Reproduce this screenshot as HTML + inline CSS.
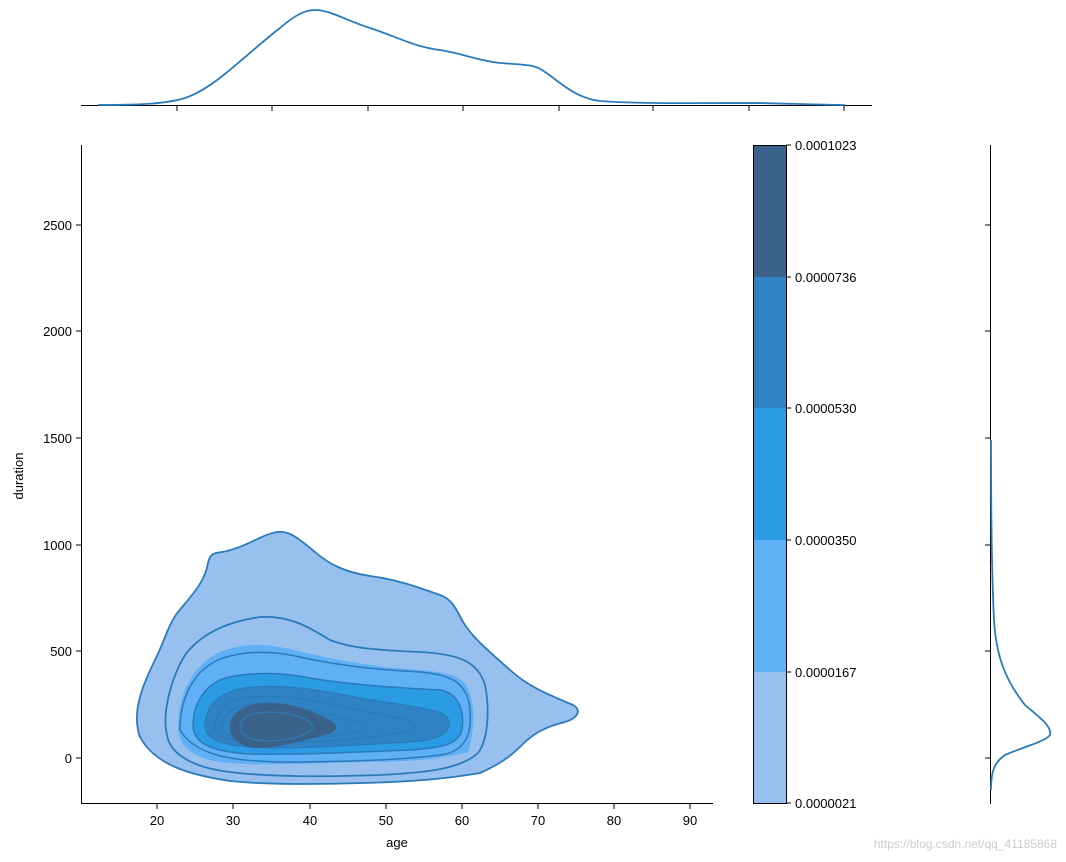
<!DOCTYPE html>
<html><head><style>body{margin:0;background:#fff}svg{display:block}text{font-family:"Liberation Sans",sans-serif;font-size:13px;fill:#000}</style></head>
<body>
<svg width="1066" height="862" viewBox="0 0 1066 862" xmlns="http://www.w3.org/2000/svg">
<line x1="81" y1="105.5" x2="872" y2="105.5" stroke="#000" stroke-width="1"/>
<g stroke="#000"><line x1="177" y1="105" x2="177" y2="111"/><line x1="272" y1="105" x2="272" y2="111"/><line x1="368" y1="105" x2="368" y2="111"/><line x1="463" y1="105" x2="463" y2="111"/><line x1="559" y1="105" x2="559" y2="111"/><line x1="653" y1="105" x2="653" y2="111"/><line x1="749" y1="105" x2="749" y2="111"/><line x1="844" y1="105" x2="844" y2="111"/></g>
<path d="M98,105 C140,105 165,104 185,98 C215,88 245,55 280,28 C295,15 305,10 315,10 C330,10 345,20 370,28 C400,38 415,47 440,50 C465,54 475,60 500,63 C525,65 535,64 545,72 C560,82 575,98 600,101 C640,104 700,103 760,103 C800,104 830,105 845,105" fill="none" stroke="#2b7bba" stroke-width="1.8"/>
<line x1="81.5" y1="145" x2="81.5" y2="804" stroke="#000"/>
<line x1="81" y1="803.5" x2="713" y2="803.5" stroke="#000"/>
<g stroke="#000">
<line x1="157" y1="804" x2="157" y2="809"/><line x1="233" y1="804" x2="233" y2="809"/><line x1="310" y1="804" x2="310" y2="809"/><line x1="386" y1="804" x2="386" y2="809"/><line x1="462" y1="804" x2="462" y2="809"/><line x1="538" y1="804" x2="538" y2="809"/><line x1="614" y1="804" x2="614" y2="809"/><line x1="690" y1="804" x2="690" y2="809"/>
<line x1="76" y1="225" x2="81" y2="225"/><line x1="76" y1="331" x2="81" y2="331"/><line x1="76" y1="438" x2="81" y2="438"/><line x1="76" y1="545" x2="81" y2="545"/><line x1="76" y1="651" x2="81" y2="651"/><line x1="76" y1="758" x2="81" y2="758"/>
</g>
<g text-anchor="middle">
<text x="157" y="825">20</text><text x="233" y="825">30</text><text x="310" y="825">40</text><text x="386" y="825">50</text><text x="462" y="825">60</text><text x="538" y="825">70</text><text x="614" y="825">80</text><text x="690" y="825">90</text>
<text x="397" y="847">age</text>
</g>
<g text-anchor="end">
<text x="72" y="230">2500</text><text x="72" y="336">2000</text><text x="72" y="443">1500</text><text x="72" y="550">1000</text><text x="72" y="656">500</text><text x="72" y="763">0</text>
</g>
<text x="23" y="476" text-anchor="middle" transform="rotate(-90 23 476)">duration</text>
<path d="M140,737 C132,715 140,690 155,660 C165,640 168,625 178,612 C192,595 205,582 208,563 C210,553 215,553 222,552 C245,548 260,535 277,532 C290,530 300,540 315,552 C330,565 345,572 370,576 C400,580 420,588 440,595 C455,600 458,615 465,625 C475,640 490,652 510,670 C530,688 550,695 573,705 C582,710 578,718 565,722 C545,727 535,733 525,742 C515,752 505,762 480,773 C440,780 400,782 363,783 C300,785 260,784 230,781 C190,775 155,765 140,737 Z" fill="#98c0ee" stroke="#2b7bba" stroke-width="1.8"/>
<path d="M167,735 C162,715 170,680 185,655 C200,635 225,622 260,617 C290,615 310,628 330,640 C350,648 375,650 420,652 C460,654 478,662 485,685 C490,710 488,740 478,753 C460,770 420,773 380,775 C320,777 270,777 230,772 C195,768 170,755 167,735 Z" fill="none" stroke="#2b7bba" stroke-width="1.8"/>
<path d="M178,727 C178,695 192,665 220,652 C240,644 260,643 285,648 C315,655 345,662 385,667 C425,671 455,670 466,685 C475,700 476,725 468,752 C440,760 400,762 363,762 C300,764 250,766 220,762 C192,758 178,745 178,727 Z" fill="#5fb0f5"/>
<path d="M180,730 C180,700 192,672 218,660 C240,651 270,650 300,657 C340,666 380,670 420,672 C455,675 468,685 470,710 C472,735 465,752 440,755 C400,760 340,762 280,762 C230,761 195,755 180,730 Z" fill="none" stroke="#2b7bba" stroke-width="1.5"/>
<path d="M193,727 C193,703 205,685 225,678 C250,672 280,672 310,678 C350,685 400,688 440,690 C458,693 465,710 462,730 C458,745 440,748 410,750 C360,752 300,755 250,754 C215,752 195,745 193,727 Z" fill="#2b9be6" stroke="#2b7bba" stroke-width="1.5"/>
<path d="M205,727 C205,705 220,692 245,688 C275,684 310,688 350,696 C390,704 430,707 445,715 C455,725 448,738 420,741 C380,744 320,748 270,748 C230,747 206,742 205,727 Z" fill="#2f82c4" stroke="#2b7bba" stroke-width="1.3"/>
<path d="M215,727 C215,710 228,700 250,697 C280,694 315,700 350,708 C380,715 410,718 415,725 C410,733 380,737 340,740 C300,743 260,744 240,741 C222,738 215,734 215,727 Z" fill="none" stroke="#2b7bba" stroke-width="1.3"/>
<path d="M222,727 C222,713 235,706 255,704 C280,702 305,708 330,715 C350,720 365,724 365,728 C360,733 340,736 310,738 C280,740 255,741 240,739 C228,736 222,733 222,727 Z" fill="none" stroke="#2b7bba" stroke-width="1.2"/>
<path d="M230,727 C230,712 245,704 265,703 C290,702 310,710 330,720 C340,726 338,732 325,735 C305,740 280,748 255,748 C238,746 230,738 230,727 Z" fill="#3a6189"/>
<path d="M240,727 C240,717 252,712 270,712 C290,712 310,718 313,728 C310,735 290,740 270,741 C252,741 240,736 240,727 Z" fill="none" stroke="#2b7bba" stroke-width="1.3"/>
<rect x="753" y="672" width="33" height="131" fill="#98c0ee"/>
<rect x="753" y="540" width="33" height="132" fill="#5fb0f5"/>
<rect x="753" y="408" width="33" height="132" fill="#2b9be6"/>
<rect x="753" y="277" width="33" height="131" fill="#2f82c4"/>
<rect x="753" y="145" width="33" height="132" fill="#3a6189"/>
<rect x="753.5" y="145.5" width="33" height="658" fill="none" stroke="#000"/>
<g stroke="#000"><line x1="786" y1="145" x2="791" y2="145"/><line x1="786" y1="277" x2="791" y2="277"/><line x1="786" y1="408" x2="791" y2="408"/><line x1="786" y1="540" x2="791" y2="540"/><line x1="786" y1="672" x2="791" y2="672"/><line x1="786" y1="803" x2="791" y2="803"/></g>
<text x="795" y="150">0.0001023</text><text x="795" y="282">0.0000736</text><text x="795" y="413">0.0000530</text><text x="795" y="545">0.0000350</text><text x="795" y="677">0.0000167</text><text x="795" y="808">0.0000021</text>
<line x1="990.5" y1="145" x2="990.5" y2="804" stroke="#000"/>
<g stroke="#000"><line x1="985" y1="225" x2="990" y2="225"/><line x1="985" y1="331" x2="990" y2="331"/><line x1="985" y1="438" x2="990" y2="438"/><line x1="985" y1="545" x2="990" y2="545"/><line x1="985" y1="651" x2="990" y2="651"/><line x1="985" y1="758" x2="990" y2="758"/></g>
<path d="M991,440 C991,520 992,580 994,620 C996,655 1005,680 1025,705 C1040,718 1052,726 1050,735 C1045,742 1020,748 1005,755 C995,762 991,770 991,790" fill="none" stroke="#2b7bba" stroke-width="1.8"/>
<text x="1057" y="848" text-anchor="end" style="fill:#ccc;font-size:12px">https://blog.csdn.net/qq_41185868</text>
</svg>
</body></html>
